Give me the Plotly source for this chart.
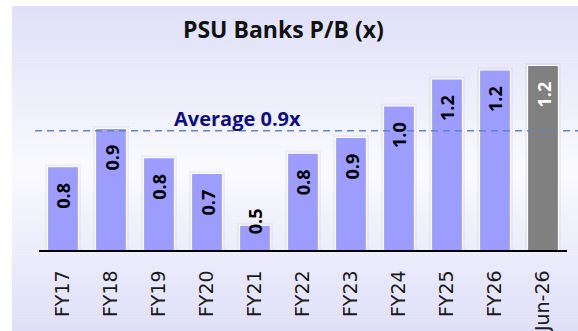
import plotly.graph_objects as go

# ---- data -------------------------------------------------------------
categories = ["FY17", "FY18", "FY19", "FY20", "FY21", "FY22",
              "FY23", "FY24", "FY25", "FY26", "Jun-26"]
pb_values = [0.77, 0.94, 0.81, 0.74, 0.51, 0.83, 0.90, 1.04, 1.16, 1.20, 1.22]
average_pb = 0.93
chart_title = "PSU Banks P/B (x)"
average_label = "Average {:.1f}x"

# ---- layout constants -------------------------------------------------
W, H = 578, 331
ML, MR, MT, MB = 39, 11, 50, 81
PLOT_W = W - ML - MR
PLOT_H = H - MT - MB
Y_FLOOR = 0.4
PX_PER_UNIT = 225.0
Y_TOP = Y_FLOOR + PLOT_H / PX_PER_UNIT

BAR_BLUE = "#9d9dff"
BAR_GREY = "#808080"
EDGE_LAV = (223, 223, 249)
MID_LAV = (250, 250, 254)


def paper_x(px):
    return (px - ML) / PLOT_W


def paper_y(py):
    return (MT + PLOT_H - py) / PLOT_H


bar_colors = [BAR_BLUE] * (len(categories) - 1) + [BAR_GREY]
label_colors = ["#000000"] * (len(categories) - 1) + ["#ffffff"]

fig = go.Figure()

# soft shadow around the columns
fig.add_trace(go.Bar(
    x=categories, y=pb_values, width=0.645,
    marker=dict(color="rgba(0,0,0,0)",
                line=dict(color="rgba(110,110,140,0.08)", width=5)),
    hoverinfo="skip", showlegend=False,
))
# the columns
fig.add_trace(go.Bar(
    x=categories, y=pb_values, width=0.645,
    marker=dict(color=bar_colors, line=dict(color="#ffffff", width=1.2)),
    showlegend=False,
))

# value labels, rotated, just inside the top of each column
annotations = []
for cat, val, col in zip(categories, pb_values, label_colors):
    short = (val - Y_FLOOR) < 0.2
    annotations.append(dict(
        x=cat, y=val, xref="x", yref="y", text=f"{val:.1f}",
        showarrow=False, textangle=-90,
        xanchor="center", yanchor="middle",
        yshift=4 if short else -29,
        font=dict(family="Open Sans", size=18, color="#000000" if short else col,
                  weight="bold"),
    ))

# average line caption
annotations.append(dict(
    x=paper_x(237), xref="paper", y=average_pb, yref="y",
    text=average_label.format(average_pb), showarrow=False,
    xanchor="center", yanchor="middle", yshift=12,
    font=dict(family="Open Sans", size=20, color="#0d0d8c", weight="bold"),
))
# chart title
annotations.append(dict(
    x=paper_x(283.5), xref="paper", y=paper_y(29), yref="paper",
    text=chart_title, showarrow=False,
    xanchor="center", yanchor="middle",
    font=dict(family="Open Sans", size=23, color="#111111", weight="bold"),
))

shapes = []
# vertical lavender gradient panel
top_px, bot_px, left_px, right_px = 6, 331, 12, 578
n_bands = 110
for i in range(n_bands):
    t = (i + 0.5) / n_bands
    w = 1 - abs(2 * t - 1)
    c = tuple(round(e + (m - e) * w) for e, m in zip(EDGE_LAV, MID_LAV))
    y0 = top_px + (bot_px - top_px) * i / n_bands
    y1 = top_px + (bot_px - top_px) * (i + 1) / n_bands + 0.6
    shapes.append(dict(
        type="rect", xref="paper", yref="paper", layer="below",
        x0=paper_x(left_px), x1=paper_x(right_px + 2),
        y0=paper_y(y1), y1=paper_y(y0),
        fillcolor="rgb({},{},{})".format(*c), line=dict(width=0),
    ))
# dashed average line
shapes.append(dict(
    type="line", xref="paper", yref="y",
    x0=paper_x(35), x1=paper_x(580), y0=average_pb, y1=average_pb,
    line=dict(color="#5a88c4", width=1.6, dash="7px,5px"),
))

fig.update_layout(
    width=W, height=H,
    margin=dict(l=ML, r=MR, t=MT, b=MB, pad=0, autoexpand=False),
    paper_bgcolor="#ffffff", plot_bgcolor="rgba(0,0,0,0)",
    barmode="overlay",
    annotations=annotations, shapes=shapes,
    xaxis=dict(
        range=[-0.5, len(categories) - 0.5],
        automargin=False,
        showline=True, linecolor="#000000", linewidth=1.6,
        showgrid=False, zeroline=False, ticks="",
        tickangle=-90, ticklabelstandoff=11,
        tickfont=dict(family="DejaVu Sans", size=19, color="#1a1a1a"),
    ),
    yaxis=dict(range=[Y_FLOOR, Y_TOP], visible=False, showgrid=False,
               zeroline=False, automargin=False),
)

fig.write_html("out.html")
